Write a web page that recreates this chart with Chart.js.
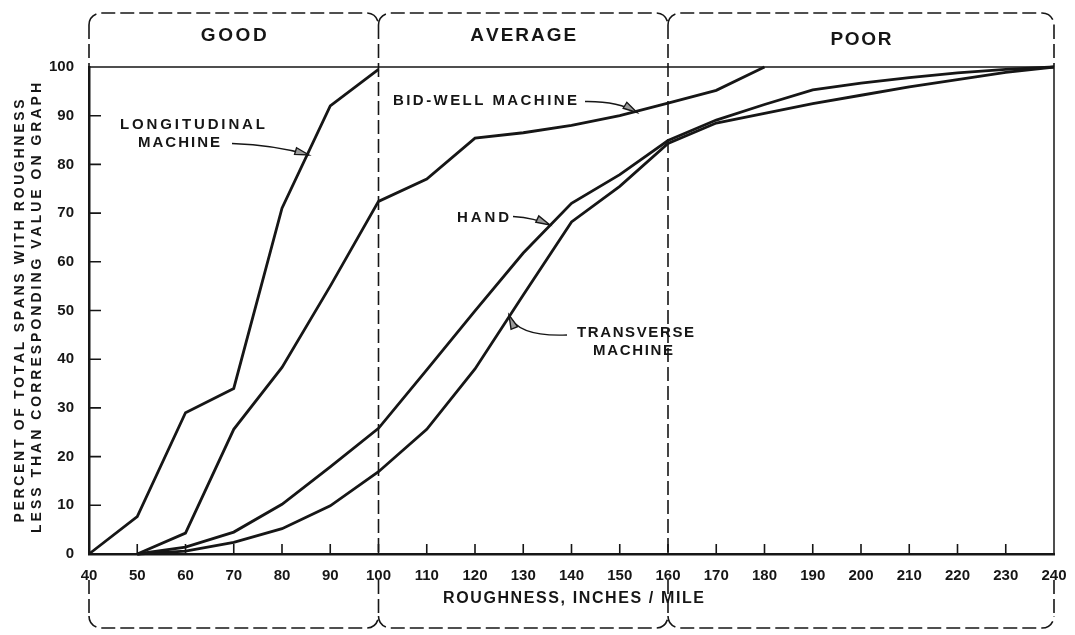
<!DOCTYPE html>
<html>
<head>
<meta charset="utf-8">
<script src="https://cdn.jsdelivr.net/npm/chart.js@4.4.1/dist/chart.umd.min.js"></script>
<style>
  html, body { margin: 0; padding: 0; background: #fff; }
  #wrap { width: 1075px; height: 635px; position: relative; }
</style>
</head>
<body>
<div id="wrap"><canvas id="roughChart"></canvas></div>
<script>
// roughness, inches / mile
const roughness = [40, 50, 60, 70, 80, 90, 100, 110, 120, 130, 140, 150, 160, 170, 180, 190, 200, 210, 220, 230, 240];
const percentTicks = [0, 10, 20, 30, 40, 50, 60, 70, 80, 90, 100];

// percent of spans below the value
const longitudinal = [0, 7.7, 29, 34, 71, 92, 99.5, null, null, null, null, null, null, null, null, null, null, null, null, null, null];
const bidWell = [null, 0, 4.3, 25.6, 38.3, 55, 72.4, 77, 85.4, 86.5, 88, 90, 92.6, 95.2, 100, null, null, null, null, null, null];
const hand = [null, 0, 1.4, 4.5, 10.2, 17.9, 25.8, 37.8, 49.9, 61.8, 72, 77.9, 84.9, 89.1, 92.3, 95.3, 96.7, 97.8, 98.8, 99.5, 100];
const transverse = [null, 0, 0.6, 2.4, 5.2, 9.9, 16.9, 25.6, 38, 53.2, 68.2, 75.5, 84.3, 88.5, 90.5, 92.5, 94.2, 95.9, 97.4, 98.9, 100];

const zoneNames = ['GOOD', 'AVERAGE', 'POOR'];
const zoneEdges = [40, 100, 160, 240];

const ink = '#161616';
const fontFam = '"Liberation Sans", Arial, sans-serif';

function toPoints(vals) {
  return roughness.map((x, i) => ({ x: x, y: vals[i] })).filter(p => p.y !== null);
}

function series(label, vals) {
  return {
    label: label,
    data: toPoints(vals),
    borderColor: ink,
    borderWidth: 2.8,
    pointRadius: 0,
    tension: 0,
    fill: false,
    clip: false
  };
}

// text stretched to a given width (hand lettering is wide-spaced)
function spaced(ctx, text, x, y, width, align) {
  const chars = Array.from(text);
  const w = chars.map(c => ctx.measureText(c).width);
  const natural = w.reduce((a, b) => a + b, 0);
  const gap = chars.length > 1 ? (width - natural) / (chars.length - 1) : 0;
  let cx = align === 'center' ? x - width / 2 : x;
  ctx.textAlign = 'left';
  chars.forEach((c, i) => {
    ctx.fillText(c, cx, y);
    cx += w[i] + gap;
  });
}

function arrow(ctx, sx, sy, cx, cy, tx, ty) {
  ctx.beginPath();
  ctx.moveTo(sx, sy);
  ctx.quadraticCurveTo(cx, cy, tx, ty);
  ctx.stroke();
  const ang = Math.atan2(ty - cy, tx - cx);
  const len = 14, half = 3.5;
  ctx.beginPath();
  ctx.moveTo(tx, ty);
  ctx.lineTo(tx - len * Math.cos(ang) + half * Math.sin(ang), ty - len * Math.sin(ang) - half * Math.cos(ang));
  ctx.lineTo(tx - len * Math.cos(ang) - half * Math.sin(ang), ty - len * Math.sin(ang) + half * Math.cos(ang));
  ctx.closePath();
  ctx.fillStyle = '#9a9a9a';
  ctx.fill();
  ctx.stroke();
}

const decor = {
  id: 'decor',
  beforeDatasetsDraw(chart) {
    const { ctx, chartArea: a, scales: { x } } = chart;
    const xs = zoneEdges.map(v => x.getPixelForValue(v));
    const top = 13, bot = 628, r = 12, belowLabels = 580;
    ctx.save();
    ctx.strokeStyle = ink;
    ctx.lineWidth = 1.6;
    ctx.setLineDash([14, 5]);
    for (let i = 0; i < xs.length - 1; i++) {
      ctx.beginPath();
      ctx.moveTo(xs[i], top + r);
      ctx.arcTo(xs[i], top, xs[i] + r, top, r);
      ctx.lineTo(xs[i + 1] - r, top);
      ctx.arcTo(xs[i + 1], top, xs[i + 1], top + r, r);
      ctx.stroke();

      ctx.beginPath();
      ctx.moveTo(xs[i], bot - r);
      ctx.arcTo(xs[i], bot, xs[i] + r, bot, r);
      ctx.lineTo(xs[i + 1] - r, bot);
      ctx.arcTo(xs[i + 1], bot, xs[i + 1], bot - r, r);
      ctx.stroke();
    }
    xs.forEach((px, i) => {
      const inner = i > 0 && i < xs.length - 1;
      ctx.beginPath();
      ctx.moveTo(px, top + r);
      ctx.lineTo(px, inner ? a.bottom : a.top);
      ctx.moveTo(px, belowLabels);
      ctx.lineTo(px, bot - r);
      ctx.stroke();
    });
    ctx.restore();
  },
  afterDraw(chart) {
    const { ctx, chartArea: a, scales: { x, y } } = chart;
    ctx.save();
    ctx.strokeStyle = ink;
    ctx.fillStyle = ink;

    // 100 % line and right edge
    ctx.lineWidth = 1.5;
    ctx.beginPath();
    ctx.moveTo(a.left, y.getPixelForValue(100));
    ctx.lineTo(a.right, y.getPixelForValue(100));
    ctx.moveTo(a.right, a.top);
    ctx.lineTo(a.right, a.bottom);
    ctx.stroke();

    // inside tick marks
    ctx.lineWidth = 1.6;
    ctx.beginPath();
    roughness.slice(1, -1).forEach(v => {
      const px = x.getPixelForValue(v);
      ctx.moveTo(px, a.bottom);
      ctx.lineTo(px, a.bottom - 10);
    });
    percentTicks.slice(1, -1).forEach(v => {
      const py = y.getPixelForValue(v);
      ctx.moveTo(a.left, py);
      ctx.lineTo(a.left + 12, py);
    });
    ctx.stroke();

    ctx.textBaseline = 'middle';

    // zone headings
    ctx.font = 'bold 19px ' + fontFam;
    const zoneWidths = [66, 106, 61];
    const zoneY = [36, 36, 40];
    zoneNames.forEach((name, i) => {
      const cx = (x.getPixelForValue(zoneEdges[i]) + x.getPixelForValue(zoneEdges[i + 1])) / 2;
      spaced(ctx, name, cx, zoneY[i], zoneWidths[i], 'center');
    });

    // curve labels
    ctx.font = 'bold 15px ' + fontFam;
    spaced(ctx, 'LONGITUDINAL', 120, 125, 145, 'left');
    spaced(ctx, 'MACHINE', 138, 143, 82, 'left');
    spaced(ctx, 'BID-WELL MACHINE', 393, 101, 184, 'left');
    spaced(ctx, 'HAND', 457, 217.5, 52, 'left');
    spaced(ctx, 'TRANSVERSE', 577, 333, 117, 'left');
    spaced(ctx, 'MACHINE', 593, 351, 80, 'left');

    // axis titles
    ctx.font = 'bold 16px ' + fontFam;
    spaced(ctx, 'ROUGHNESS, INCHES / MILE', 443, 599, 261, 'left');
    ctx.font = 'bold 14px ' + fontFam;
    ctx.save();
    ctx.translate(20, 311);
    ctx.rotate(-Math.PI / 2);
    spaced(ctx, 'PERCENT OF TOTAL SPANS WITH ROUGHNESS', 0, 0, 423, 'center');
    ctx.restore();
    ctx.save();
    ctx.translate(37, 308);
    ctx.rotate(-Math.PI / 2);
    spaced(ctx, 'LESS THAN CORRESPONDING VALUE ON GRAPH', 0, 0, 450, 'center');
    ctx.restore();

    // arrows
    ctx.lineWidth = 1.4;
    arrow(ctx, 232, 143.5, 275, 145, 309, 155);
    arrow(ctx, 585, 101.5, 618, 101, 637, 112.5);
    arrow(ctx, 513, 216.5, 535, 218, 550, 225);
    arrow(ctx, 567, 335, 518, 337, 509, 315);

    ctx.restore();
  }
};

new Chart(document.getElementById('roughChart'), {
  type: 'line',
  data: {
    datasets: [
      series('Longitudinal machine', longitudinal),
      series('Bid-well machine', bidWell),
      series('Hand', hand),
      series('Transverse machine', transverse)
    ]
  },
  options: {
    responsive: true,
    maintainAspectRatio: false,
    animation: false,
    layout: { padding: { left: 0, right: 21, top: 67, bottom: 0 } },
    plugins: {
      legend: { display: false },
      tooltip: { enabled: false }
    },
    scales: {
      x: {
        type: 'linear',
        min: 40,
        max: 240,
        afterBuildTicks: s => { s.ticks = roughness.map(v => ({ value: v })); },
        afterFit: s => { s.height = 81; },
        grid: { display: false },
        border: { display: true, color: ink, width: 2.5 },
        ticks: { color: ink, padding: 5, maxRotation: 0, autoSkip: false, font: { family: fontFam, size: 15, weight: 'bold' } }
      },
      y: {
        min: 0,
        max: 100,
        afterBuildTicks: s => { s.ticks = percentTicks.map(v => ({ value: v })); },
        afterFit: s => { s.width = 89; },
        grid: { display: false },
        border: { display: true, color: ink, width: 2.5 },
        ticks: { color: ink, padding: 7, font: { family: fontFam, size: 15, weight: 'bold' } }
      }
    }
  },
  plugins: [decor]
});
</script>
</body>
</html>
